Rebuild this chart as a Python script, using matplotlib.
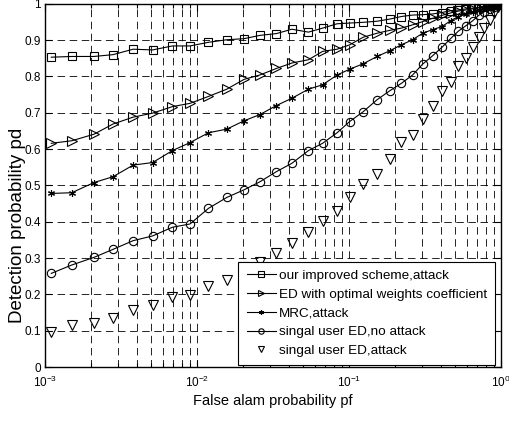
import numpy as np
import matplotlib
matplotlib.use('Agg')
import matplotlib.pyplot as plt
from matplotlib.ticker import LogLocator, NullFormatter

plt.rcParams['font.family'] = ['Liberation Sans', 'DejaVu Sans']
plt.rcParams['mathtext.default'] = 'regular'

pf = [0.0011, 0.0015, 0.0021, 0.0028, 0.0038, 0.0051, 0.0069, 0.0090, 0.0119,
      0.0157, 0.0204, 0.0259, 0.0333, 0.0421, 0.0541, 0.0670, 0.0835, 0.101,
      0.124, 0.153, 0.186, 0.221, 0.262, 0.305, 0.355, 0.408, 0.468, 0.525,
      0.589, 0.650, 0.713, 0.775, 0.843, 0.90, 0.95, 1.0]

pd_improved = [0.853, 0.855, 0.855, 0.860, 0.875, 0.873, 0.884, 0.884, 0.894,
               0.901, 0.904, 0.913, 0.918, 0.930, 0.922, 0.933, 0.945, 0.947,
               0.949, 0.952, 0.958, 0.965, 0.969, 0.970, 0.972, 0.976, 0.981,
               0.983, 0.986, 0.988, 0.990, 0.992, 0.994, 0.996, 0.998, 1.0]
pd_optimal = [0.616, 0.623, 0.641, 0.669, 0.688, 0.699, 0.717, 0.726, 0.745,
              0.765, 0.792, 0.804, 0.822, 0.837, 0.846, 0.869, 0.875, 0.887,
              0.908, 0.919, 0.927, 0.933, 0.942, 0.951, 0.960, 0.968, 0.975,
              0.980, 0.983, 0.986, 0.989, 0.992, 0.994, 0.996, 0.998, 1.0]
pd_mrc = [0.478, 0.480, 0.508, 0.524, 0.556, 0.563, 0.596, 0.618, 0.645,
          0.655, 0.678, 0.695, 0.720, 0.740, 0.765, 0.777, 0.804, 0.820,
          0.835, 0.855, 0.871, 0.887, 0.901, 0.919, 0.929, 0.937, 0.954,
          0.965, 0.972, 0.978, 0.983, 0.988, 0.992, 0.995, 0.998, 1.0]
pd_single_noattack = [0.258, 0.281, 0.302, 0.324, 0.348, 0.361, 0.385, 0.394,
                      0.437, 0.467, 0.488, 0.510, 0.538, 0.561, 0.596, 0.616,
                      0.645, 0.676, 0.703, 0.736, 0.761, 0.781, 0.804, 0.834,
                      0.857, 0.880, 0.905, 0.925, 0.940, 0.953, 0.968, 0.978,
                      0.986, 0.992, 0.997, 1.0]
pd_single_attack = [0.097, 0.116, 0.122, 0.134, 0.157, 0.171, 0.192, 0.198,
                    0.223, 0.240, 0.275, 0.290, 0.315, 0.342, 0.373, 0.403,
                    0.431, 0.467, 0.505, 0.532, 0.572, 0.620, 0.639, 0.684,
                    0.720, 0.760, 0.786, 0.830, 0.850, 0.882, 0.908, 0.933,
                    0.956, 0.975, 0.990, 1.0]

labels = ['our improved scheme,attack',
          'ED with optimal weights coefficient',
          'MRC,attack',
          'singal user ED,no attack',
          'singal user ED,attack']

fig = plt.figure(figsize=(5.1, 4.21), dpi=100)
ax = fig.add_axes([0.0882, 0.128, 0.8942, 0.863])

kw = dict(color='black', markerfacecolor='none',
          markeredgecolor='black', markeredgewidth=0.8)
ax.semilogx(pf, pd_improved, marker='s', markersize=6, linewidth=0.8, label=labels[0], **kw)
ax.semilogx(pf, pd_optimal, marker='>', markersize=6.5, linewidth=0.8, label=labels[1], **kw)
ax.semilogx(pf, pd_mrc, marker=(6, 2, 0), markersize=5, linewidth=0.8, label=labels[2], **kw)
ax.semilogx(pf, pd_single_noattack, marker='o', markersize=6, linewidth=0.8, label=labels[3], **kw)
ax.semilogx(pf, pd_single_attack, marker='v', markersize=6.5, linestyle='none',
            label=labels[4], **kw)

ax.set_xlim(1e-3, 1)
ax.set_ylim(0, 1)
ax.set_yticks(np.arange(0, 1.01, 0.1))
ax.set_yticklabels(['0', '0.1', '0.2', '0.3', '0.4', '0.5', '0.6', '0.7', '0.8', '0.9', '1'])
ax.set_xticks([1e-3, 1e-2, 1e-1, 1])
ax.set_xticklabels(['$10^{-3}$', '$10^{-2}$', '$10^{-1}$', '$10^{0}$'])
ax.xaxis.set_minor_locator(LogLocator(base=10, subs=np.arange(2, 10)))
ax.xaxis.set_minor_formatter(NullFormatter())

ax.tick_params(which='both', direction='in', top=True, right=True,
               labelsize=8.5, width=0.8)
ax.tick_params(which='major', length=5)
ax.tick_params(which='minor', length=3)
ax.tick_params(axis='x', which='major', pad=5.5)
ax.tick_params(axis='y', which='major', pad=3)

grid_kw = dict(color='black', linewidth=0.6, linestyle=(0, (9, 5.5)))
ax.grid(True, which='major', axis='both', **grid_kw)
ax.grid(True, which='minor', axis='x', **grid_kw)

for s in ax.spines.values():
    s.set_linewidth(1.0)

ax.set_xlabel('False alam probability pf', fontsize=10.5, labelpad=3)
ax.set_ylabel('Detection probability pd', fontsize=13.5)
ax.yaxis.set_label_coords(-0.042, 0.39)

leg = ax.legend(loc='lower right', bbox_to_anchor=(0.987, 0.005), fontsize=9.7,
                frameon=True, fancybox=False, edgecolor='black', framealpha=1,
                borderaxespad=0, handlelength=2.2, handletextpad=0.2,
                labelspacing=0.47, borderpad=0.6, markerscale=0.65)
leg.get_frame().set_linewidth(0.8)

fig.savefig('out.png', dpi=100)
